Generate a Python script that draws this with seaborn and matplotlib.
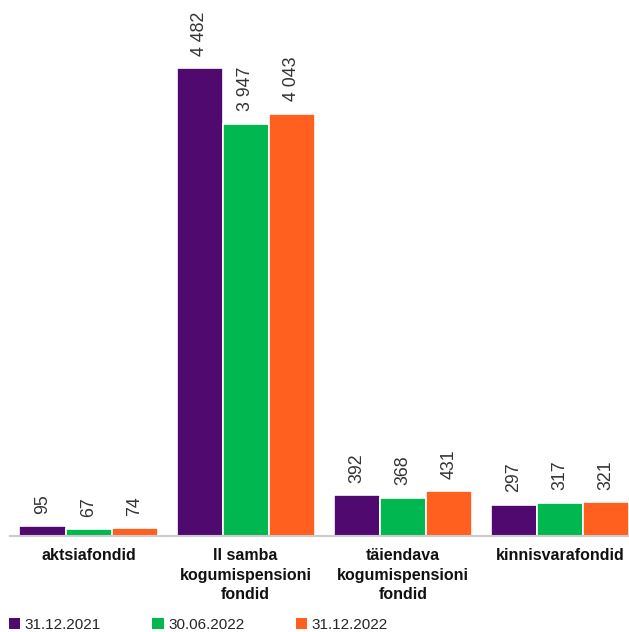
import matplotlib
matplotlib.use("Agg")
import matplotlib.pyplot as plt
from matplotlib.patches import Patch
import seaborn as sns
import pandas as pd

categories = ["aktsiafondid", "II samba\nkogumispensioni\nfondid", "täiendava\nkogumispensioni\nfondid", "kinnisvarafondid"]
dates = ["31.12.2021", "30.06.2022", "31.12.2022"]
v_2021 = [95, 4482, 392, 297]
v_2022a = [67, 3947, 368, 317]
v_2022b = [74, 4043, 431, 321]
colors = ["#500a6f", "#00b84f", "#ff5f1f"]

rows = []
for d, vals in zip(dates, [v_2021, v_2022a, v_2022b]):
    for c, v in zip(categories, vals):
        rows.append({"cat": c, "date": d, "value": v})
df = pd.DataFrame(rows)

sns.set_style("white")
plt.rcParams["font.family"] = ["Liberation Sans", "DejaVu Sans"]

fig = plt.figure(figsize=(6.29, 6.32), dpi=100)
ax = fig.add_axes([10 / 629, (632 - 536) / 632, 619 / 629, 536 / 632])
sns.barplot(data=df, x="cat", y="value", hue="date", order=categories, hue_order=dates,
            palette=colors, width=0.88, gap=0, edgecolor="white", linewidth=1.2,
            saturation=1, ax=ax, legend=False)

for cont in ax.containers:
    labels = [f"{int(b.get_height()):,}".replace(",", " ") for b in cont]
    ax.bar_label(cont, labels=labels, rotation=90, padding=9, fontsize=12.8, color="#333333")

ax.set_xlim(-0.5, 3.44)
ax.set_ylim(0, 5134)
ax.set_yticks([])
ax.set_xlabel("")
ax.set_ylabel("")
for s in ["top", "right", "left"]:
    ax.spines[s].set_visible(False)
ax.spines["bottom"].set_color("#cccccc")
ax.spines["bottom"].set_linewidth(1.5)
ax.tick_params(axis="x", length=0, pad=9)
for t in ax.get_xticklabels():
    t.set_fontweight("bold")
    t.set_fontsize(11.5)
    t.set_color("#111111")
    t.set_multialignment("center")
    t.set_linespacing(1.35)

handles = [Patch(facecolor=c, edgecolor="none") for c in colors]
fig.legend(handles, dates, loc="center left", bbox_to_anchor=(4 / 629, (632 - 625) / 632),
           ncol=3, frameon=False, fontsize=11, handlelength=0.75, handleheight=0.75,
           handletextpad=0.3, columnspacing=3.35, borderaxespad=0, borderpad=0.3)

fig.savefig("out.png", dpi=100)
